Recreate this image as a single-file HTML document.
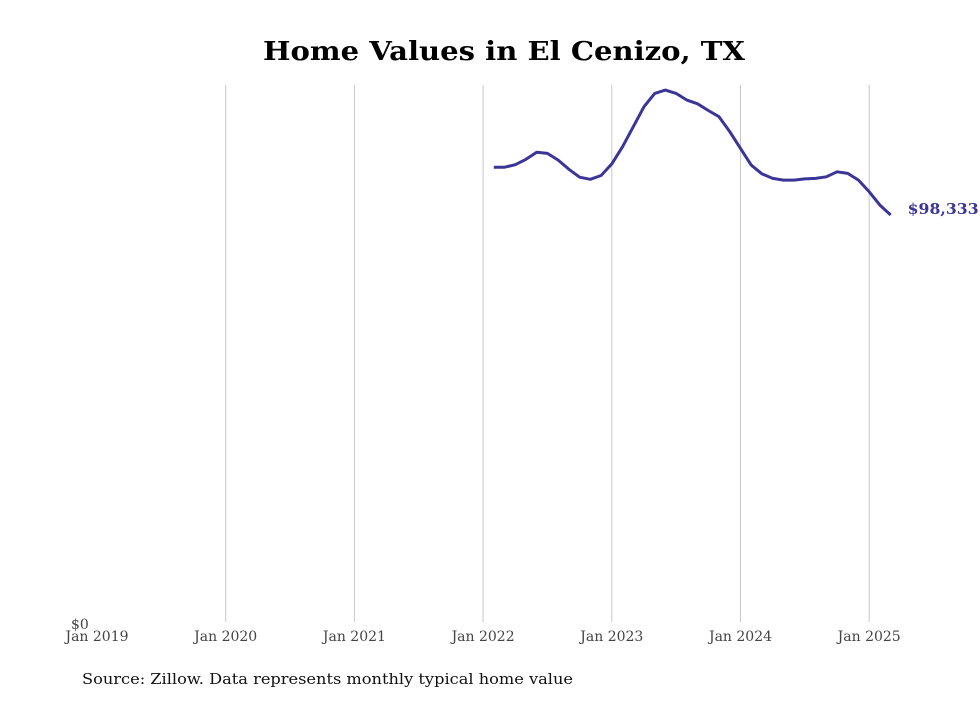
<!DOCTYPE html>
<html><head><meta charset="utf-8">
<style>
body{margin:0;background:#fff;width:980px;height:699px;overflow:hidden;font-family:"DejaVu Serif",serif;}
</style></head>
<body>
<svg width="980" height="699" id="chart" xmlns="http://www.w3.org/2000/svg" font-family="DejaVu Serif, serif">
<text x="263" y="60" font-size="26" font-weight="bold" textLength="482" lengthAdjust="spacingAndGlyphs">Home Values in El Cenizo, TX</text>
<g id="grid"></g><g id="xticks"></g>
<text x="71" y="629" font-size="14" fill="#444">$0</text>
<path id="line" fill="none" stroke="#3b3598" stroke-width="3" stroke-linejoin="round"/>
<text id="endlabel" font-size="15" font-weight="bold" fill="#3b3598" textLength="71" lengthAdjust="spacingAndGlyphs"></text>
<text x="82" y="684" font-size="15" fill="#111" textLength="491" lengthAdjust="spacingAndGlyphs">Source: Zillow. Data represents monthly typical home value</text>
</svg>
<script>
const years=[2019,2020,2021,2022,2023,2024,2025];
const startYear=2022, startMonth=1; // Feb 2022 (0-based month)
const values=[109800,109800,110400,111700,113400,113100,111500,109300,107400,106900,107800,110600,114700,119500,124300,127500,128300,127500,125900,125000,123400,121900,118300,114300,110300,108200,107100,106700,106700,107000,107100,107500,108700,108300,106700,103900,100700,98333];
const ns="http://www.w3.org/2000/svg";
const x=t=>97+(t-2019)*128.7;
const y=v=>625-v*410/98333;
const grid=document.getElementById('grid'), xt=document.getElementById('xticks');
years.forEach((yr,i)=>{
  if(i>0){const l=document.createElementNS(ns,'line');
  l.setAttribute('x1',x(yr));l.setAttribute('x2',x(yr));l.setAttribute('y1',85);l.setAttribute('y2',622);
  l.setAttribute('stroke','#c8c8c8');l.setAttribute('stroke-width','1');
  
  
  grid.appendChild(l);}
  const t=document.createElementNS(ns,'text');
  t.setAttribute('x',x(yr));t.setAttribute('y',641);t.setAttribute('text-anchor','middle');
  t.setAttribute('font-size','14');t.setAttribute('fill','#444');
  t.textContent='Jan '+yr;
  
  
  xt.appendChild(t);
});
let d='';
values.forEach((v,i)=>{const t=startYear+(startMonth+i)/12;d+=(i?'L':'M')+x(t).toFixed(1)+','+y(v).toFixed(1);});
document.getElementById('line').setAttribute('d',d);
const last=values[values.length-1], lt=startYear+(startMonth+values.length-1)/12;
const el=document.getElementById('endlabel');
el.setAttribute('x',x(lt)+17);el.setAttribute('y',y(last)-1);
el.textContent='$'+last.toLocaleString('en-US');
</script>
</body></html>
